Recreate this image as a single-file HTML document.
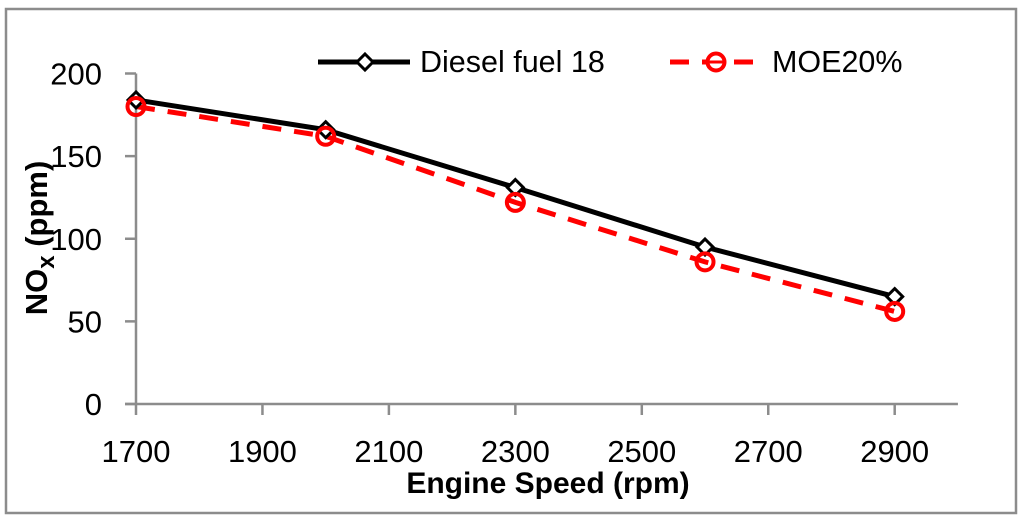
<!DOCTYPE html>
<html><head><meta charset="utf-8"><style>
html,body{margin:0;padding:0;background:#fff;}
svg{display:block;font-family:"Liberation Sans",sans-serif;}
</style></head><body>
<svg width="1024" height="521" viewBox="0 0 1024 521">
<rect x="6" y="9" width="1010" height="504" fill="#fff" stroke="#8c8c8c" stroke-width="2.5"/>
<g id="axes"></g>
<g id="series"></g>
<g>
 <g>
  <line x1="318" y1="62" x2="410" y2="62" stroke="#000" stroke-width="5"/>
  <path d="M365 54 L373 62 L365 70 L357 62 Z" fill="#fff" stroke="#000" stroke-width="3"/>
  <text x="420" y="72" font-size="30.5" fill="#000">Diesel fuel 18</text>
 </g>
 <g>
  <line x1="670" y1="62" x2="762" y2="62" stroke="#f00" stroke-width="5" stroke-dasharray="19,13"/>
  <circle cx="716" cy="62" r="8.5" fill="#fff" stroke="#f00" stroke-width="4"/>
  <line x1="709" y1="62" x2="723" y2="62" stroke="#f00" stroke-width="3"/>
  <text x="772" y="72" font-size="30.5" fill="#000">MOE20%</text>
 </g>
</g>
<text x="548" y="493" font-size="30" font-weight="bold" text-anchor="middle">Engine Speed (rpm)</text>
<text transform="translate(47,238) rotate(-90)" font-size="31" font-weight="bold" text-anchor="middle">NO<tspan font-size="24" dy="7">x</tspan><tspan dy="-7"> (ppm)</tspan></text>
</svg>
<script>
const categories=[1700,2000,2300,2600,2900];
const dieselValues=[184,166,131,95,65];
const moeValues=[180,162,122,86,56];
const xTicks=[1700,1900,2100,2300,2500,2700,2900];
const yTicks=[0,50,100,150,200];
const NS="http://www.w3.org/2000/svg";
function xs(v){return 136+(v-1700)*(758.7/1200);}
function ys(v){return 404-v*(330.5/200);}
function mk(tag,attrs,parent,txt){const e=document.createElementNS(NS,tag);for(const k in attrs)e.setAttribute(k,attrs[k]);if(txt!==undefined)e.textContent=txt;parent.appendChild(e);return e;}
const ax=document.getElementById('axes');
const sr=document.getElementById('series');
let e;
e=mk('line',{x1:136,y1:ys(200),x2:136,y2:ys(0),stroke:'#8c8c8c','stroke-width':2.5},ax);


e=mk('line',{x1:125,y1:ys(0),x2:xs(3000),y2:ys(0),stroke:'#8c8c8c','stroke-width':2.5},ax);


yTicks.forEach(t=>{
 mk('line',{x1:125,y1:ys(t),x2:136,y2:ys(t),stroke:'#8c8c8c','stroke-width':2.5},ax);
 e=mk('text',{x:102,y:ys(t)+11,'font-size':31,'text-anchor':'end'},ax,String(t));
 
 
});
xTicks.forEach(t=>{
 mk('line',{x1:xs(t),y1:ys(0),x2:xs(t),y2:ys(0)+11,stroke:'#8c8c8c','stroke-width':2.5},ax);
 e=mk('text',{x:xs(t),y:462,'font-size':31,'text-anchor':'middle'},ax,String(t));
 
 
});
const mp=categories.map((c,i)=>xs(c)+','+ys(moeValues[i])).join(' ');
const dp=categories.map((c,i)=>xs(c)+','+ys(dieselValues[i])).join(' ');
e=mk('polyline',{points:dp,fill:'none',stroke:'#000','stroke-width':5},sr);


e=mk('polyline',{points:mp,fill:'none',stroke:'#f00','stroke-width':5,'stroke-dasharray':'19,13'},sr);


categories.forEach((c,i)=>{
 const x=xs(c),y=ys(dieselValues[i]);
 e=mk('path',{d:`M${x} ${y-8} L${x+8} ${y} L${x} ${y+8} L${x-8} ${y} Z`,fill:'#fff',stroke:'#000','stroke-width':3},sr);
 
 
});
categories.forEach((c,i)=>{
 const x=xs(c),y=ys(moeValues[i]);
 e=mk('circle',{cx:x,cy:y,r:8.5,fill:'none',stroke:'#f00','stroke-width':4},sr);
 
 
});
</script>
</body></html>
